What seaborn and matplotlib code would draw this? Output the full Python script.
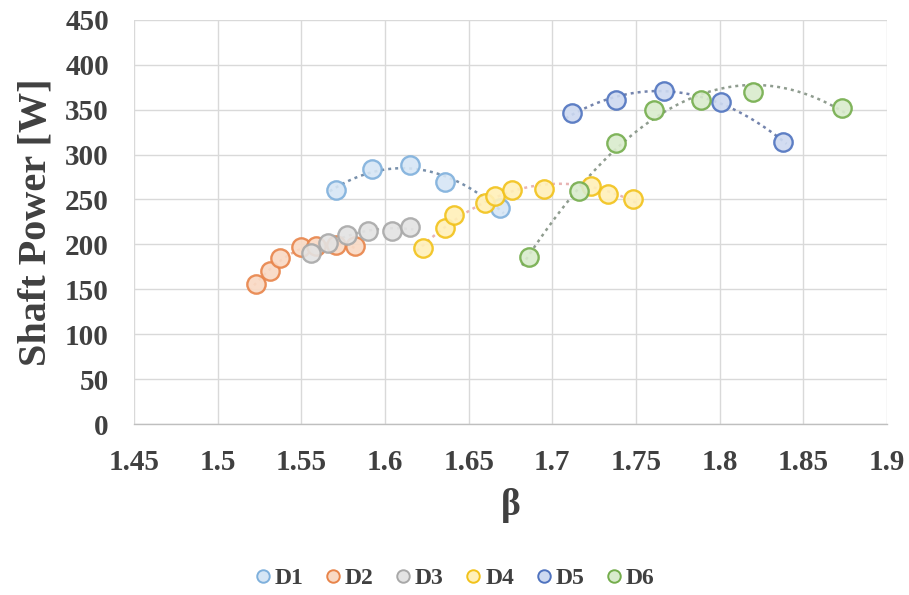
import numpy as np
import pandas as pd
import matplotlib
matplotlib.use("Agg")
import matplotlib.pyplot as plt
from matplotlib.lines import Line2D
import seaborn as sns

# --- data ---
SERIES = ["D1", "D2", "D3", "D4", "D5", "D6"]

d1_beta = [1.571, 1.592, 1.615, 1.636, 1.669]
d1_power = [261, 284, 288, 269, 240]

d2_beta = [1.523, 1.531, 1.537, 1.550, 1.559, 1.571, 1.582]
d2_power = [156, 171, 185, 197, 198, 199, 198]

d3_beta = [1.556, 1.566, 1.577, 1.590, 1.604, 1.615]
d3_power = [190, 202, 211, 215, 215, 219]

d4_beta = [1.623, 1.636, 1.641, 1.660, 1.666, 1.676, 1.695, 1.723, 1.733, 1.748]
d4_power = [196, 218, 233, 246, 254, 261, 262, 265, 256, 251]

d5_beta = [1.712, 1.738, 1.767, 1.801, 1.838]
d5_power = [346, 361, 371, 358, 314]

d6_beta = [1.686, 1.716, 1.738, 1.761, 1.789, 1.820, 1.873]
d6_power = [186, 259, 313, 349, 361, 370, 352]

BETAS = [d1_beta, d2_beta, d3_beta, d4_beta, d5_beta, d6_beta]
POWERS = [d1_power, d2_power, d3_power, d4_power, d5_power, d6_power]

# Office-like colours: marker fill, marker edge, dotted trendline
FILL = ["#d6e6f5", "#f9d9c4", "#e3e3e3", "#fff0b8", "#cdd9f0", "#d9ebcc"]
EDGE = ["#7fb0dc", "#e8844a", "#a8a8a8", "#f2c21a", "#4f73bf", "#74ad4c"]
TREND = ["#7890ab", "#eab49a", "#b8b8b8", "#e8b4b4", "#7484ad", "#8f9c8f"]

rows = []
for name, b, p in zip(SERIES, BETAS, POWERS):
    for x, y in zip(b, p):
        rows.append({"series": name, "beta": x, "power": y})
df = pd.DataFrame(rows)

sns.set_style("white")
plt.rcParams["font.family"] = ["Liberation Serif", "DejaVu Serif"]
TEXT = "#404040"

fig = plt.figure(figsize=(9.09, 5.95), dpi=100)
ax = fig.add_axes([0.1474, 0.2866, 0.8284, 0.6806])

# dotted quadratic trendlines (Excel style)
for i, name in enumerate(SERIES):
    sub = df[df["series"] == name]
    coef = np.polyfit(sub["beta"], sub["power"], 2)
    xs = np.linspace(sub["beta"].min() - 0.004, sub["beta"].max() + 0.002, 100)
    ax.plot(xs, np.polyval(coef, xs), linestyle=(0, (1.2, 1.6)),
            color=TREND[i], linewidth=1.8, zorder=2)

for i, name in enumerate(SERIES):
    sns.scatterplot(data=df[df["series"] == name], x="beta", y="power",
                    color=FILL[i], edgecolor=EDGE[i], linewidth=1.7,
                    s=175, alpha=0.9, ax=ax, zorder=3, legend=False)

ax.set_xlim(1.45, 1.9)
ax.set_ylim(0, 450)
ax.set_xticks(np.arange(1.45, 1.9001, 0.05))
ax.set_xticklabels(["1.45", "1.5", "1.55", "1.6", "1.65", "1.7",
                    "1.75", "1.8", "1.85", "1.9"])
ax.set_yticks(np.arange(0, 451, 50))

ax.grid(True, color="#d9d9d9", linewidth=1.0)
ax.set_axisbelow(True)
for side in ["top", "right", "left"]:
    ax.spines[side].set_visible(False)
ax.spines["bottom"].set_color("#bfbfbf")
ax.spines["bottom"].set_linewidth(1.0)

ax.tick_params(axis="x", direction="out", length=7, width=1.0,
               color="#bfbfbf", pad=11, labelsize=21, labelcolor=TEXT)
ax.tick_params(axis="y", length=0, pad=18, labelsize=21, labelcolor=TEXT)
for lab in ax.get_xticklabels() + ax.get_yticklabels():
    lab.set_fontweight("bold")

ax.set_xlabel("β", fontsize=27, fontweight="bold", color=TEXT, labelpad=8)
ax.set_ylabel("Shaft Power [W]", fontsize=29, fontweight="bold", color=TEXT,
              labelpad=8)

handles = [Line2D([], [], marker="o", linestyle="none", markersize=9,
                  markerfacecolor=FILL[i], markeredgecolor=EDGE[i],
                  markeredgewidth=1.4) for i in range(len(SERIES))]
leg = fig.legend(handles, SERIES, loc="center", bbox_to_anchor=(0.5, 0.028),
                 ncol=6, frameon=False, handlelength=0.7, handletextpad=0.15,
                 columnspacing=0.9, prop={"weight": "bold", "size": 17})
for t in leg.get_texts():
    t.set_color(TEXT)

fig.savefig("out.png", dpi=100)
